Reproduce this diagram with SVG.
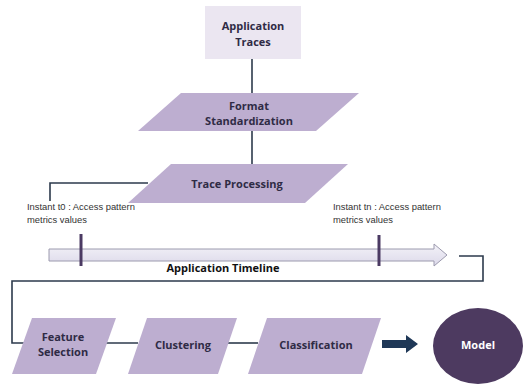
<svg xmlns="http://www.w3.org/2000/svg" width="523" height="387" viewBox="0 0 523 387">
<defs>
<linearGradient id="tl" x1="0" y1="0" x2="0" y2="1">
<stop offset="0" stop-color="#f3f2f8"/>
<stop offset="1" stop-color="#dcd9ea"/>
</linearGradient>
<style>
.node{fill:#bdaed0;stroke:none}
.lbl{font-family:"Open Sans","Liberation Sans",sans-serif;font-weight:bold;font-size:11px;fill:#2f2b45;text-anchor:middle}
.note{font-family:"Liberation Sans",sans-serif;font-size:9.4px;fill:#333}
.con{fill:none;stroke:#2c3a4c;stroke-width:1.6}
.tick{stroke:#4b3a63;stroke-width:3}
</style>
</defs>
<rect width="523" height="387" fill="#ffffff"/>

<g id="connectors">
<line class="con" x1="252" y1="59" x2="252" y2="93"/>
<line class="con" x1="252" y1="131" x2="252" y2="164"/>
<polyline class="con" points="148,183 50,183 50,201"/>
<polyline class="con" points="459,256 483,256 483,281 12,281 12,343 24,343"/>
<line class="con" x1="104" y1="343" x2="138" y2="343"/>
<line class="con" x1="226" y1="343" x2="258" y2="343"/>
<path d="M382,340 H406 V335 L418,344 L406,353 V348 H382 Z" fill="#1f3857"/>
</g>

<g id="app-traces">
<rect x="205" y="6" width="96" height="53" fill="#ebe6f1"/>
<text class="lbl" x="253" y="30">Application</text>
<text class="lbl" x="253" y="46">Traces</text>
</g>

<g id="format-standardization">
<polygon class="node" points="181,93 359,93 316,131 138,131"/>
<text class="lbl" x="249" y="110">Format</text>
<text class="lbl" x="249" y="125">Standardization</text>
</g>

<g id="trace-processing">
<polygon class="node" points="171,164 348,164 305,203 128,203"/>
<text class="lbl" x="237" y="188">Trace Processing</text>
</g>

<g id="timeline">
<path d="M49,249 H434 V244 L447,255 L434,266 V261 H49 Z" fill="url(#tl)" stroke="#9c9aae" stroke-width="1"/>
<line class="tick" x1="81" y1="234" x2="81" y2="266"/>
<line class="tick" x1="379" y1="235" x2="379" y2="266"/>
<text class="lbl" x="223" y="272" style="font-size:11px;fill:#111">Application Timeline</text>
<text class="note" x="27" y="210">Instant t0 : Access pattern</text>
<text class="note" x="27" y="223">metrics values</text>
<text class="note" x="333" y="210">Instant tn : Access pattern</text>
<text class="note" x="333" y="223">metrics values</text>
</g>

<g id="feature-selection">
<polygon class="node" points="32,318 116,318 96,374 12,374"/>
<text class="lbl" x="63" y="341">Feature</text>
<text class="lbl" x="63" y="356">Selection</text>
</g>

<g id="clustering">
<polygon class="node" points="147,318 237,318 218,374 128,374"/>
<text class="lbl" x="183" y="349">Clustering</text>
</g>

<g id="classification">
<polygon class="node" points="267,318 381,318 362,374 248,374"/>
<text class="lbl" x="316" y="349">Classification</text>
</g>

<g id="model">
<ellipse cx="478" cy="346" rx="45" ry="38" fill="#4d3a60"/>
<text class="lbl" x="478" y="349" style="fill:#ffffff">Model</text>
</g>
</svg>
